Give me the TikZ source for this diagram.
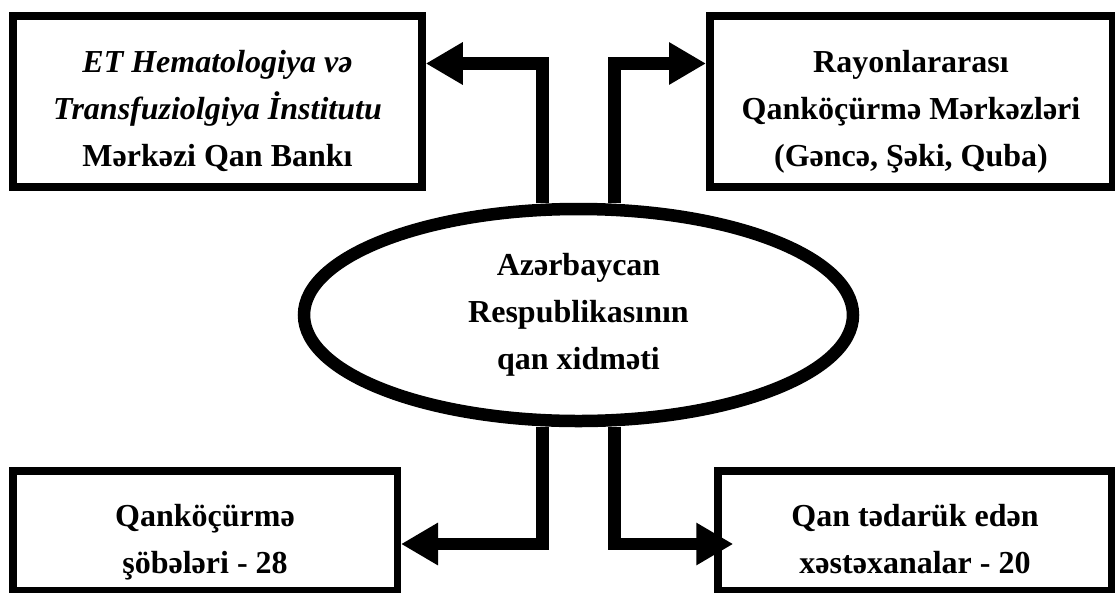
\documentclass[tikz,border=0pt]{standalone}
\usepackage{fontspec}
\setmainfont{Liberation Serif}
\usetikzlibrary{arrows.meta,shapes.geometric}
\tikzset{
  box/.style={draw, line width=7.5pt, inner sep=0pt, align=center, font=\fontsize{32}{47}\selectfont\bfseries},
  hub/.style={box, ellipse, line width=12.5pt},
  drop/.style={text height=#1, text depth=0pt},
  conn/.style={-{Triangle[length=37pt,width=40pt]}, line width=12.5pt},
}

\begin{document}
\begin{tikzpicture}[x=1pt,y=-1pt]
\useasboundingbox (0,0) rectangle (1115,592);
\node[box, drop=129pt, minimum width=409pt, minimum height=171pt] (bank) at (217.5,101.5) {\textit{ET Hematologiya və}\\\textit{Transfuziolgiya İnstitutu}\\Mərkəzi Qan Bankı};
\node[box, drop=129pt, minimum width=402.5pt, minimum height=171pt] (centres) at (911,101.5) {Rayonlararası\\Qanköçürmə Mərkəzləri\\(Gəncə, Şəki, Quba)};
\node[hub, minimum width=549pt, minimum height=212pt] (service) at (578.5,315) {Azərbaycan\\Respublikasının\\qan xidməti};
\node[box, drop=84.5pt, minimum width=384.5pt, minimum height=119.5pt] (depts) at (205,530.75) {Qanköçürmə\\şöbələri - 28};
\node[box, drop=84.5pt, minimum width=394pt, minimum height=119.5pt] (hosp) at (915,530.75) {Qan tədarük edən\\xəstəxanalar - 20};
% links from the hub
\draw[conn] ([xshift=-36pt]service.north) |- ([yshift=38pt]bank.east);
\draw[conn] ([xshift=36pt]service.north) |- ([yshift=38pt]centres.west);
\draw[conn] ([xshift=-36pt]service.south) |- ([yshift=-13.25pt]depts.east);
\draw[conn, shorten >=-19pt] ([xshift=36pt]service.south) |- ([yshift=-13.25pt]hosp.west);
\end{tikzpicture}
\end{document}
